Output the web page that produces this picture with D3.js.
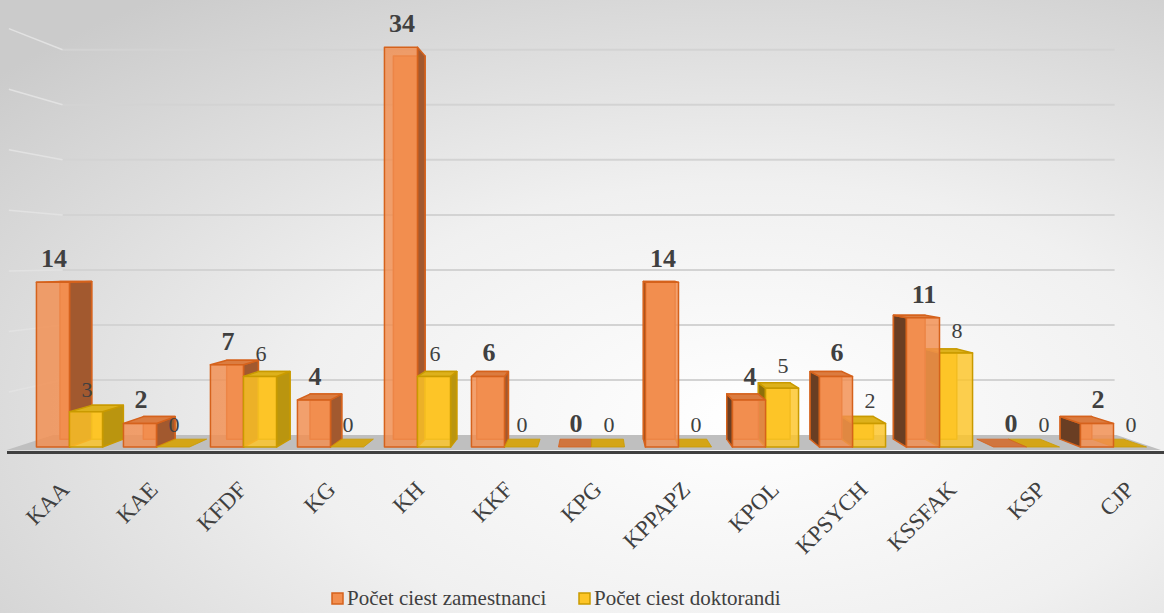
<!DOCTYPE html>
<html>
<head>
<meta charset="utf-8">
<script src="https://cdn.jsdelivr.net/npm/d3@7"></script>
<style>
    body { margin: 0; }
    svg { display: block; }
</style>
</head>
<body>
<svg id="chart" width="1164" height="613"></svg>
<script>
const categories = ["KAA", "KAE", "KFDF", "KG", "KH", "KKF", "KPG", "KPPAPZ", "KPOL", "KPSYCH", "KSSFAK", "KSP", "CJP"];
const zamestnanci = [14, 2, 7, 4, 34, 6, 0, 14, 4, 6, 11, 0, 2];
const doktorandi = [3, 0, 6, 0, 6, 0, 0, 0, 5, 2, 8, 0, 0];
const seriesNames = ["Počet ciest zamestnanci", "Počet ciest doktorandi"];
const gridTicks = [5, 10, 15, 20, 25, 30, 35];

const W = 1164, H = 613;
const FONT = "\"Liberation Serif\", monospace";
// perspective: vanishing point and depth factors
const VX = 597, VY = 260;
const BAR_DEPTH = 0.042, WALL_Z = 0.064, FLOOR_FRONT = -0.016, SIDE_FRONT = -0.03;

const palette = [
    { front: "#F28E4F", stroke: "#D5621C", top: "#DB7C40", right: "#A2592F", left: "#6A3E23", flat: "#D0753E" },
    { front: "#FDC527", stroke: "#C99A00", top: "#DDB11C", right: "#BA950F", left: "#8E700A", flat: "#D4A516" }
];

const svg = d3.select("#chart");

// background
const defs = svg.append("defs");
const grad = defs.append("radialGradient")
    .attr("id", "bg")
    .attr("cx", 0.64).attr("cy", 0.68).attr("r", 0.85);
grad.append("stop").attr("offset", 0).attr("stop-color", "#ffffff");
grad.append("stop").attr("offset", 0.45).attr("stop-color", "#f0f0f0");
grad.append("stop").attr("offset", 1).attr("stop-color", "#cbcbcb");
svg.append("rect").attr("width", W).attr("height", H).attr("fill", "url(#bg)");

const x = d3.scaleBand()
    .domain(categories)
    .range([26, 1157])
    .paddingInner(0.24)
    .paddingOuter(0.12);

const xSub = d3.scaleBand()
    .domain([0, 1])
    .range([0, x.bandwidth()]);

const y = d3.scaleLinear()
    .domain([0, 35])
    .range([447, 447 - 35 * 11.76]);

function proj(X, Y, z) {
    const f = 1 - z;
    return [VX + (X - VX) * f, VY + (Y - VY) * f];
}

const line = d3.line();

function face(pts) {
    return line(pts.map(p => proj(p[0], p[1], p[2]))) + "Z";
}

// walls: grid lines on back wall and left side wall
const wallL = 26, wallR = 1150;
const grid = svg.append("g").attr("fill", "none");
gridTicks.forEach(v => {
    const Y = y(v);
    grid.append("path")
        .attr("d", line([proj(wallL, Y, WALL_Z), proj(wallR, Y, WALL_Z)]))
        .attr("stroke", "#d3d3d3").attr("stroke-width", 2);
    grid.append("path")
        .attr("d", line([proj(wallL, Y, SIDE_FRONT), proj(wallL, Y, WALL_Z)]))
        .attr("stroke", "#e2e2e2").attr("stroke-width", 1.5);
});

// floor
const floorL = 16, floorR = 1152;
svg.append("path")
    .attr("d", face([
        [floorL, y(0), FLOOR_FRONT], [floorR, y(0), FLOOR_FRONT],
        [floorR, y(0), WALL_Z], [floorL, y(0), WALL_Z]
    ]))
    .attr("fill", "#bfbfbf");

svg.append("line")
    .attr("x1", 7).attr("x2", W)
    .attr("y1", 452.5).attr("y2", 452.5)
    .attr("stroke", "#404040").attr("stroke-width", 3);

// bars
const bars = [];
categories.forEach((c, i) => {
    [zamestnanci[i], doktorandi[i]].forEach((v, s) => {
        const X0 = x(c) + xSub(s);
        const X1 = X0 + xSub.bandwidth();
        bars.push({ c, s, v, X0, X1 });
    });
});
// paint the bars farthest from the vanishing point first
bars.sort((a, b) => Math.abs((b.X0 + b.X1) / 2 - VX) - Math.abs((a.X0 + a.X1) / 2 - VX));

const barG = svg.append("g");
bars.forEach(b => {
    const col = palette[b.s];
    const Yb = y(0), Yt = y(b.v), d = BAR_DEPTH;
    const g = barG.append("g")
        .attr("stroke", col.stroke)
        .attr("stroke-width", 1.5)
        .attr("stroke-linejoin", "round");

    if (b.v === 0) {
        g.append("path")
            .attr("d", face([[b.X0, Yb, 0], [b.X1, Yb, 0], [b.X1, Yb, d], [b.X0, Yb, d]]))
            .attr("fill", col.flat)
            .attr("stroke-width", 0.8);
        return;
    }

    g.append("path")
        .attr("d", face([[b.X0, Yt, d], [b.X1, Yt, d], [b.X1, Yb, d], [b.X0, Yb, d]]))
        .attr("fill", col.front);
    if (b.X1 < VX) {
        g.append("path")
            .attr("d", face([[b.X1, Yt, 0], [b.X1, Yt, d], [b.X1, Yb, d], [b.X1, Yb, 0]]))
            .attr("fill", col.right);
    }
    if (b.X0 > VX) {
        g.append("path")
            .attr("d", face([[b.X0, Yt, 0], [b.X0, Yt, d], [b.X0, Yb, d], [b.X0, Yb, 0]]))
            .attr("fill", col.left);
    }
    if (Yt > VY) {
        g.append("path")
            .attr("d", face([[b.X0, Yt, 0], [b.X1, Yt, 0], [b.X1, Yt, d], [b.X0, Yt, d]]))
            .attr("fill", col.top);
    }
    g.append("path")
        .attr("d", face([[b.X0, Yt, 0], [b.X1, Yt, 0], [b.X1, Yb, 0], [b.X0, Yb, 0]]))
        .attr("fill", col.front)
        .attr("fill-opacity", 0.82);
});

// value labels
const labels = svg.append("g")
    .attr("fill", "#404040")
    .attr("text-anchor", "middle");
categories.forEach((c, i) => {
    [zamestnanci[i], doktorandi[i]].forEach((v, s) => {
        labels.append("text")
            .attr("x", x(c) + xSub(s) + xSub.bandwidth() / 2 + 1)
            .attr("y", y(v) - 15)
            .style("font-family", FONT)
            .style("font-size", (s === 0 ? 26 : 22) + "px")
            .style("font-weight", s === 0 ? "bold" : "normal")
            .text(v);
    });
});

// category labels, hung from the front edge of the floor
svg.append("g")
    .selectAll("text")
    .data(categories)
    .join("text")
    .attr("transform", d => {
        const px = proj(x(d) + x.bandwidth() / 2, y(0), -0.02)[0] + 11.5;
        return `translate(${px},491) rotate(-45)`;
    })
    .attr("text-anchor", "end")
    .attr("fill", "#404040")
    .style("font-family", FONT)
    .style("font-size", "23px")
    .text(d => d);

// legend
const legend = svg.append("g").attr("fill", "#404040");
const legendX = [332, 579];
seriesNames.forEach((name, s) => {
    legend.append("rect")
        .attr("x", legendX[s]).attr("y", 593)
        .attr("width", 11).attr("height", 11)
        .attr("fill", palette[s].front)
        .attr("stroke", palette[s].stroke)
        .attr("stroke-width", 1.5);
    legend.append("text")
        .attr("x", legendX[s] + 15).attr("y", 605)
        .style("font-family", FONT)
        .style("font-size", "21px")
        .text(name);
});
</script>
</body>
</html>
